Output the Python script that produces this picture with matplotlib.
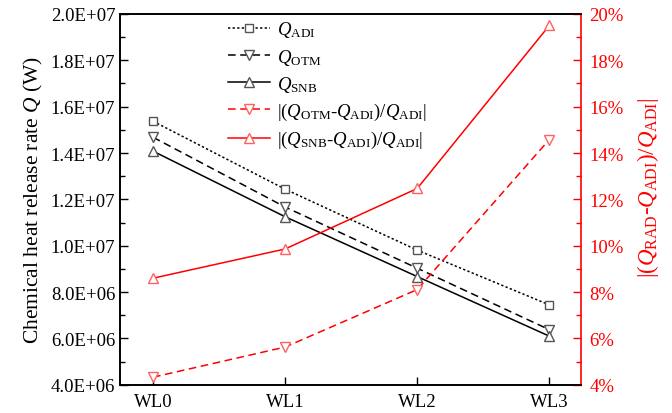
import matplotlib
matplotlib.use("Agg")
import matplotlib.pyplot as plt
from matplotlib.ticker import FuncFormatter, MultipleLocator, AutoMinorLocator

plt.rcParams['font.family'] = ['Liberation Serif', 'DejaVu Serif']
plt.rcParams['mathtext.fontset'] = 'custom'
plt.rcParams['mathtext.rm'] = 'Liberation Serif'
plt.rcParams['mathtext.it'] = 'Liberation Serif:italic'
plt.rcParams['mathtext.bf'] = 'Liberation Serif:bold'

categories = ["WL0", "WL1", "WL2", "WL3"]
q_adi = [1.537e7, 1.244e7, 9.81e6, 7.45e6]
q_otm = [1.468e7, 1.167e7, 9.03e6, 6.38e6]
q_snb = [1.408e7, 1.125e7, 8.67e6, 6.10e6]
err_otm = [4.33, 5.63, 8.11, 14.58]
err_snb = [8.60, 9.86, 12.47, 19.50]

fig = plt.figure(figsize=(6.72, 4.14), dpi=100)
ax = fig.add_axes([0.1786, 0.068, 0.686, 0.896])
ax2 = ax.twinx()

x = list(range(len(categories)))
red = '#ff0000'
mred = '#ff6060'
gray = '#555555'
ms = 7

l1, = ax.plot(x, q_adi, linestyle=(0, (1.5, 1.5)), color='black', lw=1.1,
              marker='s', ms=6, mfc='white', mec=gray, mew=1.0,
              label=r'$Q_{\mathrm{ADI}}$')
l2, = ax.plot(x, q_otm, linestyle=(0, (5, 3)), color='black', lw=1.1,
              marker='v', ms=ms, mfc='white', mec=gray, mew=1.0,
              label=r'$Q_{\mathrm{OTM}}$')
l3, = ax.plot(x, q_snb, linestyle='-', color='black', lw=1.1,
              marker='^', ms=ms, mfc='white', mec=gray, mew=1.0,
              label=r'$Q_{\mathrm{SNB}}$')
l4, = ax2.plot(x, err_otm, linestyle=(0, (5, 3)), color=red, lw=1.1,
               marker='v', ms=ms, mfc='white', mec=mred, mew=1.0,
               label=r'|($Q_{\mathrm{OTM}}$-$Q_{\mathrm{ADI}}$)/$Q_{\mathrm{ADI}}$|')
l5, = ax2.plot(x, err_snb, linestyle='-', color=red, lw=1.1,
               marker='^', ms=ms, mfc='white', mec=mred, mew=1.0,
               label=r'|($Q_{\mathrm{SNB}}$-$Q_{\mathrm{ADI}}$)/$Q_{\mathrm{ADI}}$|')

ax.set_xlim(-0.25, 3.24)
ax.set_ylim(4.0e6, 2.0e7)
ax2.set_ylim(4, 20)

ax.set_xticks(x)
ax.set_xticklabels(categories)
ax.yaxis.set_major_locator(MultipleLocator(2e6))
ax.yaxis.set_minor_locator(AutoMinorLocator(2))
ax.yaxis.set_major_formatter(FuncFormatter(lambda v, p: f"{v:.1E}"))
ax.tick_params(axis='y', which='major', direction='in', length=6, width=1, labelsize=13.5)
ax.tick_params(axis='y', which='minor', direction='in', length=3.5, width=1)
ax.tick_params(axis='x', which='major', direction='in', length=6, width=1,
               labelsize=13.5, pad=6)

ax2.yaxis.set_major_locator(MultipleLocator(2))
ax2.yaxis.set_minor_locator(AutoMinorLocator(2))
ax2.yaxis.set_major_formatter(FuncFormatter(lambda v, p: f"{v:.0f}%"))
ax2.tick_params(axis='y', which='major', direction='in', length=6, width=1,
                labelsize=13.5, colors=red, pad=6)
ax2.tick_params(axis='y', which='minor', direction='in', length=3.5, width=1, colors=red)

for a in (ax, ax2):
    for s in a.spines.values():
        s.set_linewidth(1.2)
ax2.spines['right'].set_color(red)
ax.spines['right'].set_visible(False)

ax.set_ylabel(r'Chemical heat release rate $Q$ (W)', fontsize=15.5, labelpad=4)
ax2.set_ylabel(r'|($Q_{\mathrm{RAD}}$-$Q_{\mathrm{ADI}}$)/$Q_{\mathrm{ADI}}$|',
               fontsize=16.5, color=red, labelpad=8)
ax2.yaxis.label.set_y(0.535)

handles = [l1, l2, l3, l4, l5]
ax.legend(handles, [h.get_label() for h in handles], loc='upper left',
          bbox_to_anchor=(0.234, 0.985), frameon=False, fontsize=13.5,
          handlelength=2.25, handletextpad=0.35, labelspacing=0.38,
          borderaxespad=0.0, borderpad=0.0)

fig.savefig("out.png", dpi=100)
